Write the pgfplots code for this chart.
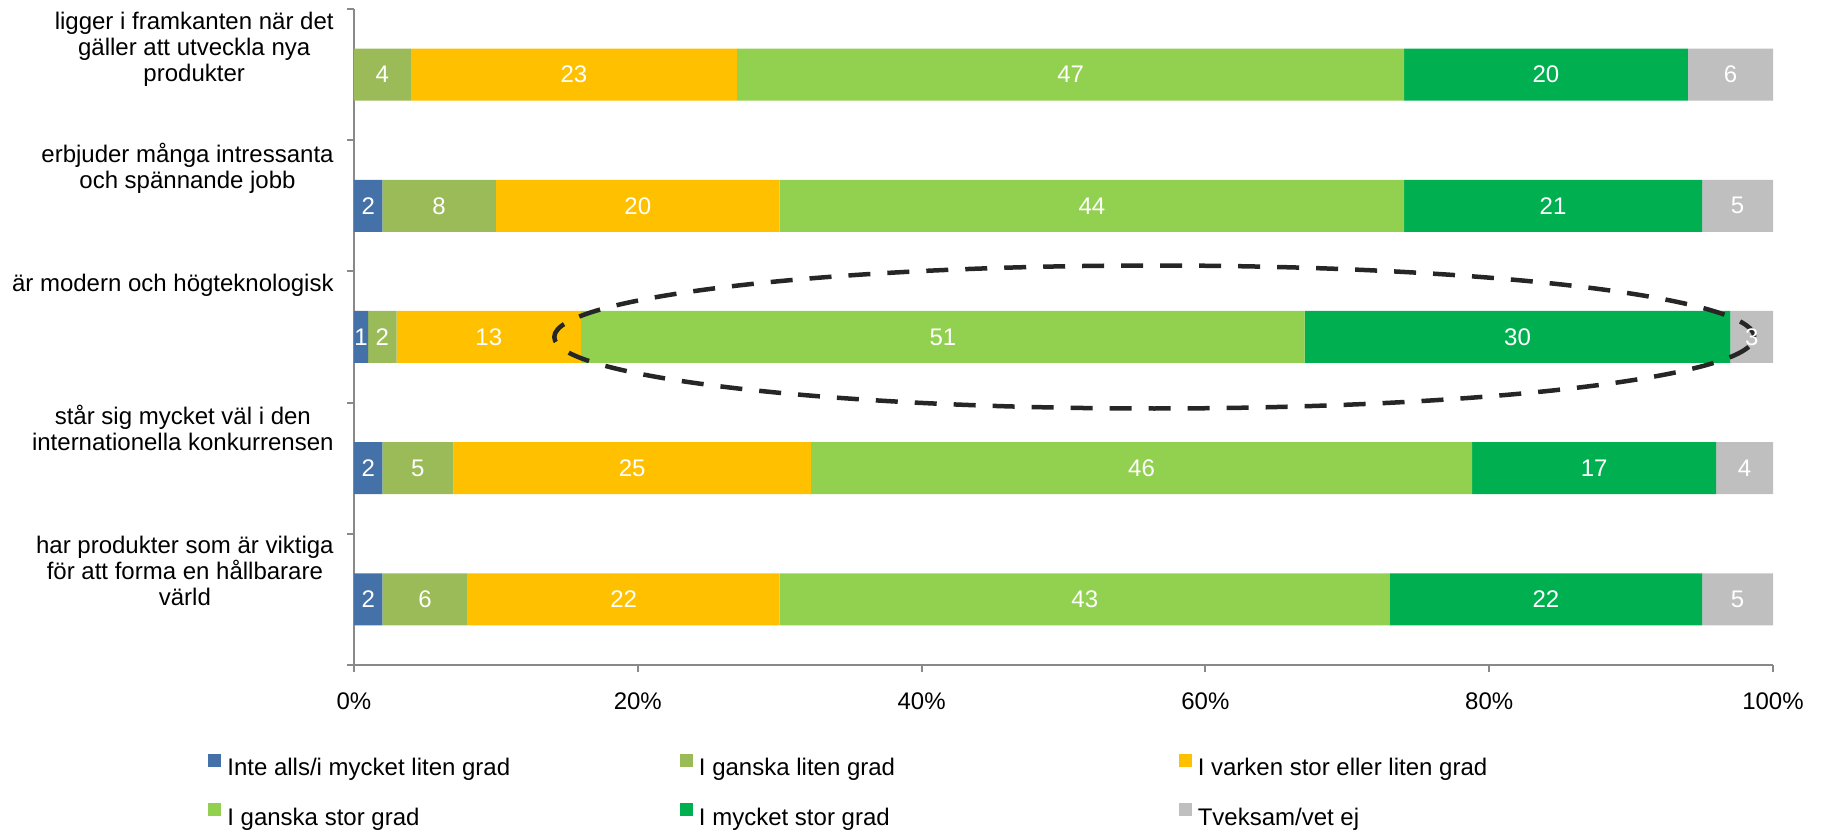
\documentclass[border=0pt]{standalone}
\usepackage{fontspec}
\setmainfont{Liberation Sans}
\usepackage{pgfplots}
\pgfplotsset{compat=1.18}
\definecolor{c1}{HTML}{4472A8}
\definecolor{c2}{HTML}{9BBB59}
\definecolor{c3}{HTML}{FFC000}
\definecolor{c4}{HTML}{92D050}
\definecolor{c5}{HTML}{00B050}
\definecolor{c6}{HTML}{BFBFBF}
\definecolor{axgray}{HTML}{898989}
\definecolor{ell}{HTML}{262626}
\begin{document}
\begin{tikzpicture}
\begin{axis}[
  at={(0,0)}, anchor=south west,
  width=709.5pt, height=328pt, scale only axis,
  xbar stacked, bar width=26pt,
  xmin=0, xmax=100, ymin=0.5, ymax=5.5,
  xtick={0,20,40,60,80,100},
  xticklabels={0\%,20\%,40\%,60\%,80\%,100\%},
  ytick={0.5,1.5,2.5,3.5,4.5,5.5},
  yticklabels={{},
    {har produkter som är viktiga\\för att forma en hållbarare\\värld},
    {står sig mycket väl i den\\internationella konkurrensen},
    {är modern och högteknologisk},
    {erbjuder många intressanta\\och spännande jobb},
    {ligger i framkanten när det\\gäller att utveckla nya\\produkter}},
  axis x line*=bottom, axis y line*=left,
  axis line style={axgray, line width=1pt},
  tick style={axgray, line width=1pt},
  major tick length=3.5pt,
  tick align=outside,
  tick label style={font=\fontsize{12}{13}\selectfont, text=black},
  yticklabel style={align=center, anchor=north east, inner sep=0pt, xshift=-6.5pt, yshift=-1.2pt},
  xticklabel style={inner sep=0pt, anchor=north, yshift=-10pt},
  legend columns=3,
  legend style={draw=none, inner sep=0pt, column sep=0pt, row sep=12.3pt,
    font=\fontsize{12}{14}\selectfont,
    nodes={inner sep=0pt},
    at={(axis description cs:-0.10289,-0.1349)}, anchor=north west},
  legend cell align=left,
  legend image code/.code={\fill[#1] (0pt,0.9pt) rectangle (6.5pt,7.4pt);},
]
\addplot[fill=c1, draw=none] coordinates {(2,1) (2,2) (1,3) (2,4) (0,5)};
\addlegendentry{\makebox[229.3pt][l]{\hspace{3pt}Inte alls/i mycket liten grad}}
\addplot[fill=c2, draw=none] coordinates {(6,1) (5,2) (2,3) (8,4) (4,5)};
\addlegendentry{\makebox[242.9pt][l]{\hspace{3pt}I ganska liten grad}}
\addplot[fill=c3, draw=none] coordinates {(22,1) (25.2,2) (13,3) (20,4) (23,5)};
\addlegendentry{\hspace{3pt}I varken stor eller liten grad}
\addplot[fill=c4, draw=none] coordinates {(43,1) (46.6,2) (51,3) (44,4) (47,5)};
\addlegendentry{\makebox[229.3pt][l]{\hspace{3pt}I ganska stor grad}}
\addplot[fill=c5, draw=none] coordinates {(22,1) (17.2,2) (30,3) (21,4) (20,5)};
\addlegendentry{\makebox[242.9pt][l]{\hspace{3pt}I mycket stor grad}}
\addplot[fill=c6, draw=none] coordinates {(5,1) (4,2) (3,3) (5,4) (6,5)};
\addlegendentry{\hspace{3pt}Tveksam/vet ej}
\end{axis}
\begin{axis}[
  at={(0,0)}, anchor=south west,
  width=709.5pt, height=328pt, scale only axis,
  xmin=0, xmax=100, ymin=0.5, ymax=5.5,
  hide axis,
]
\addplot[draw=none, mark=none, nodes near coords, point meta=explicit symbolic,
  nodes near coords style={text=white, font=\fontsize{12}{14}\selectfont, anchor=center, inner sep=0pt}]
  coordinates {
  (2,5) [4] (15.5,5) [23] (50.5,5) [47] (84,5) [20] (97,5) [6]
  (1,4) [2] (6,4) [8] (20,4) [20] (52,4) [44] (84.5,4) [21] (97.5,4) [5]
  (0.5,3) [1] (2,3) [2] (9.5,3) [13] (41.5,3) [51] (82,3) [30] (98.5,3) [3]
  (1,2) [2] (4.5,2) [5] (19.6,2) [25] (55.5,2) [46] (87.4,2) [17] (98,2) [4]
  (1,1) [2] (5,1) [6] (19,1) [22] (51.5,1) [43] (84,1) [22] (97.5,1) [5]
  };
\draw[ell, line width=2.25pt, dash pattern=on 11pt off 8.5pt] (axis cs:56.4,3) ellipse [x radius=300pt, y radius=35.75pt];
\end{axis}
\pgfresetboundingbox
\path[use as bounding box] (-177pt,-82.5pt) rectangle (734pt,332.5pt);
\end{tikzpicture}
\end{document}
